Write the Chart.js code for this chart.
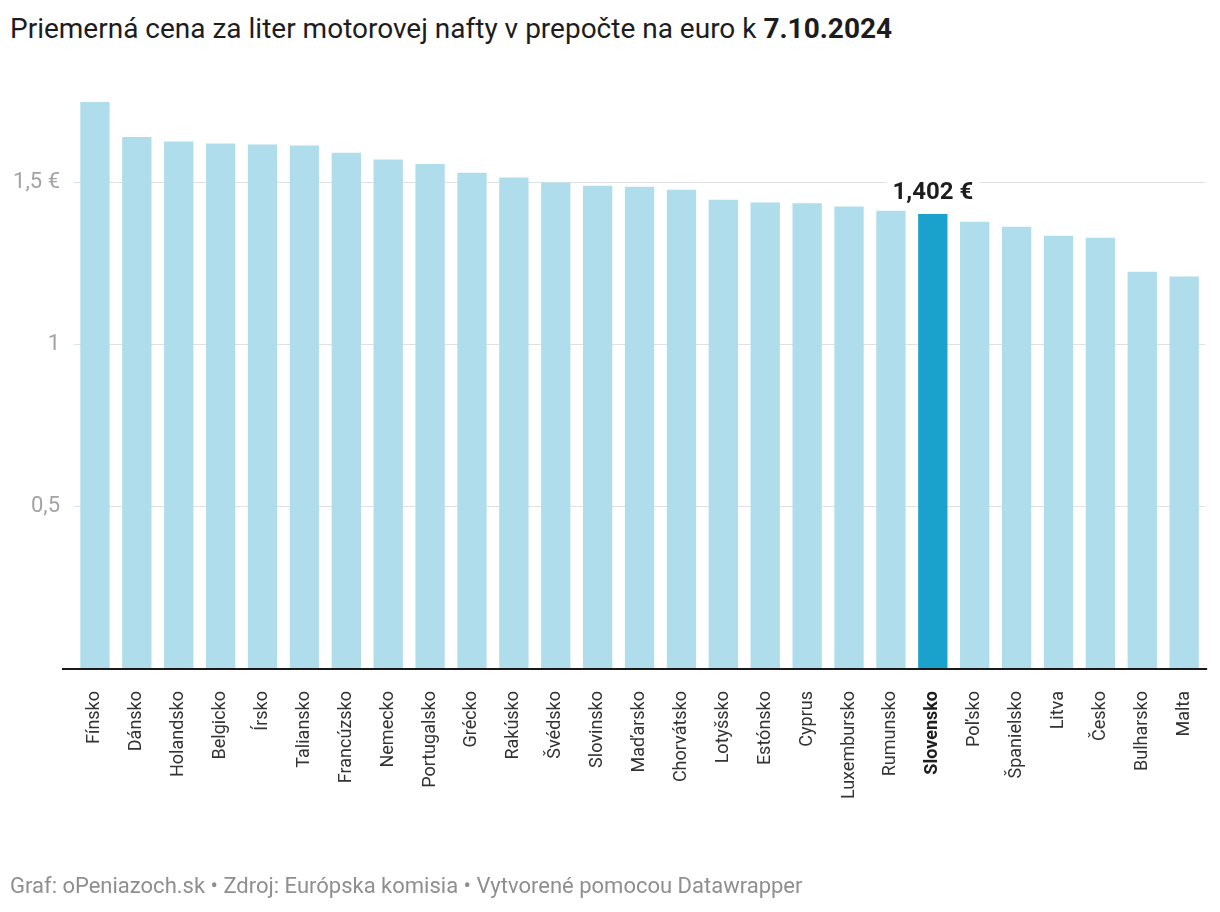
<!DOCTYPE html>
<html>
<head>
<meta charset="utf-8">
<script src="https://cdn.jsdelivr.net/npm/chart.js@4.4.1/dist/chart.umd.min.js"></script>
<style>
  html, body { margin: 0; padding: 0; background: #fff; }
  body { width: 1220px; height: 912px; position: relative; overflow: hidden; font-family: Roboto, sans-serif; }
  #title { position: absolute; left: 10px; top: 15px; font-size: 28px; line-height: 28px; color: #1d1d1d; white-space: nowrap; }
  #title b { font-weight: 700; }
  #footer { position: absolute; left: 10px; top: 875px; font-size: 22px; line-height: 22px; color: #8f8f8f; white-space: nowrap; }
  #c { position: absolute; left: 0; top: 0; }
</style>
</head>
<body>
<div id="title">Priemerná cena za liter motorovej nafty v prepočte na euro k <b>7.10.2024</b></div>
<canvas id="c" width="1220" height="912"></canvas>
<div id="footer">Graf: oPeniazoch.sk • Zdroj: Európska komisia • Vytvorené pomocou Datawrapper</div>
<script>
const categories = ['Fínsko','Dánsko','Holandsko','Belgicko','Írsko','Taliansko','Francúzsko','Nemecko','Portugalsko','Grécko','Rakúsko','Švédsko','Slovinsko','Maďarsko','Chorvátsko','Lotyšsko','Estónsko','Cyprus','Luxembursko','Rumunsko','Slovensko','Poľsko','Španielsko','Litva','Česko','Bulharsko','Malta'];
const prices = [1.747,1.639,1.625,1.619,1.616,1.613,1.591,1.570,1.556,1.529,1.514,1.499,1.489,1.486,1.477,1.446,1.437,1.435,1.425,1.412,1.402,1.378,1.363,1.335,1.329,1.224,1.209];
const highlightName = 'Slovensko';
const highlightLabel = '1,402 €';
const yTickValues = [0.5, 1, 1.5];
const yTickLabels = ['0,5', '1', '1,5 €'];

const LIGHT = '#b0ddeb';
const DARK = '#1ba2cc';
const hi = categories.indexOf(highlightName);

const overlay = {
  id: 'overlay',
  afterDatasetsDraw(chart) {
    const ctx = chart.ctx;
    const ys = chart.scales.y;
    const area = chart.chartArea;
    const y0 = ys.getPixelForValue(0);
    ctx.save();
    ctx.strokeStyle = '#1a1a1a';
    ctx.lineWidth = 2;
    ctx.beginPath();
    ctx.moveTo(area.left - 12, y0);
    ctx.lineTo(area.right + 2, y0);
    ctx.stroke();

    const bar = chart.getDatasetMeta(0).data[hi];
    ctx.font = 'bold 24px Roboto';
    ctx.textAlign = 'center';
    ctx.textBaseline = 'alphabetic';
    const tw = ctx.measureText(highlightLabel).width;
    const ty = bar.y - 15;
    ctx.fillStyle = '#fff';
    ctx.fillRect(bar.x - tw / 2 - 6, ty - 22, tw + 12, 28);
    ctx.fillStyle = '#1d1d1d';
    ctx.fillText(highlightLabel, bar.x, ty);
    ctx.restore();
  }
};

new Chart(document.getElementById('c'), {
  type: 'bar',
  data: {
    labels: categories,
    datasets: [{
      data: prices,
      backgroundColor: categories.map((c, i) => i === hi ? DARK : LIGHT),
      borderWidth: 0,
      barPercentage: 0.7,
      categoryPercentage: 1.0
    }]
  },
  options: {
    responsive: false,
    animation: false,
    devicePixelRatio: 1,
    layout: { padding: { top: 102, right: 12, bottom: 0, left: 0 } },
    plugins: { legend: { display: false }, tooltip: { enabled: false } },
    scales: {
      x: {
        grid: { display: false },
        border: { display: false },
        afterFit(scale) { scale.height = 243; },
        ticks: {
          autoSkip: false,
          minRotation: 90,
          maxRotation: 90,
          padding: 14,
          color: (ctx) => ctx.index === hi ? '#1d1d1d' : '#333',
          font: (ctx) => ({ family: 'Roboto', size: 18, weight: ctx.index === hi ? 'bold' : 'normal' })
        }
      },
      y: {
        min: 0,
        max: prices[0],
        afterFit(scale) { scale.width = 74; },
        afterBuildTicks(scale) { scale.ticks = yTickValues.map(v => ({ value: v })); },
        border: { display: false },
        grid: { color: '#e0e0e0', lineWidth: 1, drawTicks: false },
        ticks: {
          padding: 14,
          color: '#a3a3a3',
          font: { family: 'Roboto', size: 22 },
          callback: (v) => { const i = yTickValues.indexOf(v); return i >= 0 ? yTickLabels[i] : ''; }
        }
      }
    }
  },
  plugins: [overlay]
});
</script>
</body>
</html>
